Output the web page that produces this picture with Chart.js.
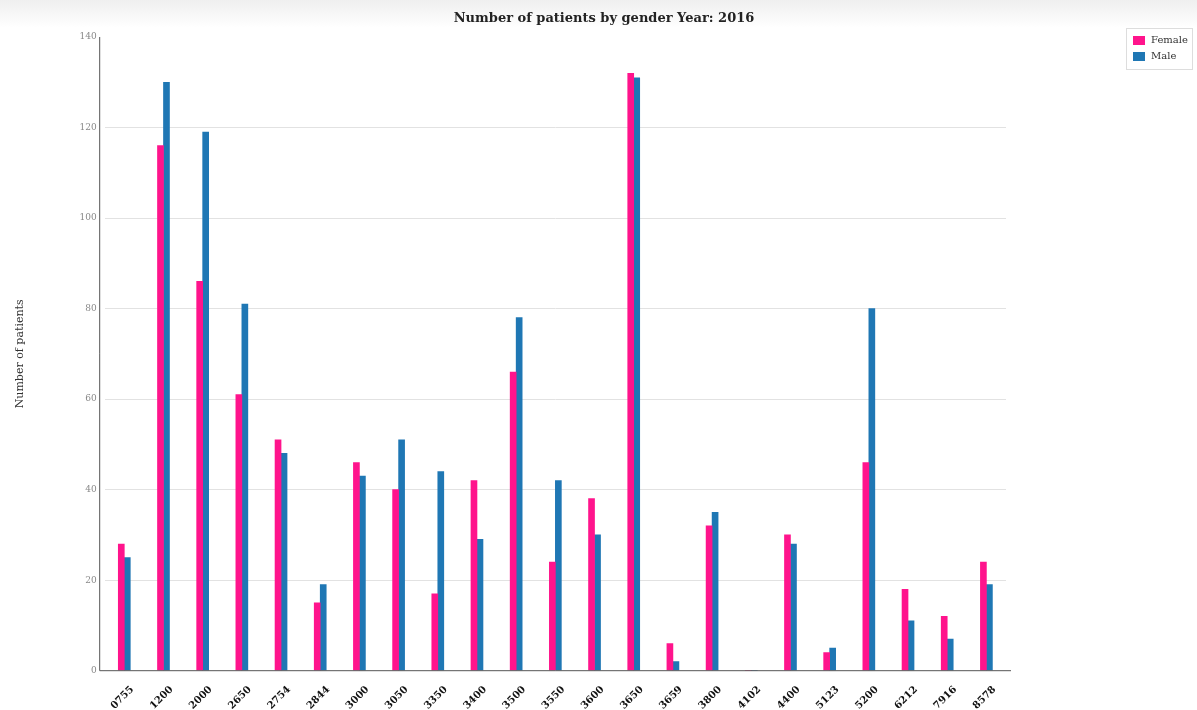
<!DOCTYPE html>
<html>
<head>
<meta charset="utf-8">
<script src="https://cdn.jsdelivr.net/npm/chart.js@4.4.1/dist/chart.umd.min.js"></script>
<style>
  html, body { margin: 0; padding: 0; background: #fff; }
  #wrap { width: 1197px; height: 710px; }
</style>
</head>
<body>
<div id="wrap"><canvas id="chart" width="1197" height="710"></canvas></div>
<script>
const postcodes = ['0755', '1200', '2000', '2650', '2754', '2844', '3000', '3050', '3350', '3400', '3500', '3550',
  '3600', '3650', '3659', '3800', '4102', '4400', '5123', '5200', '6212', '7916', '8578'];
const female = [28, 116, 86, 61, 51, 15, 46, 40, 17, 42, 66, 24, 38, 132, 6, 32, 0, 30, 4, 46, 18, 12, 24];
const male = [25, 130, 119, 81, 48, 19, 43, 51, 44, 29, 78, 42, 30, 131, 2, 35, 0, 28, 5, 80, 11, 7, 19];
const yTicks = [0, 20, 40, 60, 80, 100, 120, 140];
const chartTitle = 'Number of patients by gender Year: 2016';

const FONT = "'DejaVu Serif', serif";
const pink = 'rgb(255, 20, 140)';
const blue = 'rgb(31, 119, 180)';

// faint grey band at the top, like the page behind the original
const backdrop = {
  id: 'backdrop',
  beforeDraw(chart) {
    const c = chart.ctx;
    const g = c.createLinearGradient(0, 0, 0, 28);
    g.addColorStop(0, '#efefef');
    g.addColorStop(1, '#ffffff');
    c.save();
    c.fillStyle = g;
    c.fillRect(0, 0, chart.width, 28);
    c.restore();
  }
};

// title is centred on the whole page, not just the plot
const pageTitle = {
  id: 'pageTitle',
  afterDraw(chart) {
    const c = chart.ctx;
    c.save();
    c.font = 'bold 13px ' + FONT;
    c.fillStyle = '#222';
    c.textAlign = 'center';
    c.textBaseline = 'middle';
    c.fillText(chartTitle, 604, 19);
    c.restore();
  }
};

// axis lines reach a little past the bars on both sides
const axisLines = {
  id: 'axisLines',
  afterDatasetsDraw(chart) {
    const { ctx: c, chartArea: a } = chart;
    const y0 = chart.scales.y.getPixelForValue(0);
    c.save();
    c.strokeStyle = '#555';
    c.lineWidth = 1;
    c.beginPath();
    c.moveTo(a.left - 5, a.top);
    c.lineTo(a.left - 5, y0);
    c.lineTo(a.right + 5, y0);
    c.stroke();
    c.restore();
  }
};

// boxed legend in the top-right corner
const boxLegend = {
  id: 'boxLegend',
  afterDraw(chart) {
    const c = chart.ctx;
    const x = 1126, y = 28, w = 66, h = 41;
    c.save();
    c.fillStyle = '#fff';
    c.fillRect(x, y, w, h);
    c.strokeStyle = '#ddd';
    c.strokeRect(x + 0.5, y + 0.5, w, h);
    c.font = '10px ' + FONT;
    c.textBaseline = 'middle';
    chart.data.datasets.forEach((ds, i) => {
      const ry = y + 12 + i * 16;
      c.fillStyle = ds.backgroundColor;
      c.fillRect(x + 7, ry - 4, 12, 9);
      c.fillStyle = '#333';
      c.fillText(ds.label, x + 25, ry);
    });
    c.restore();
  }
};

new Chart(document.getElementById('chart'), {
  type: 'bar',
  data: {
    labels: postcodes,
    datasets: [
      { label: 'Female', data: female, backgroundColor: pink, barThickness: 6 },
      { label: 'Male', data: male, backgroundColor: blue, barThickness: 6 }
    ]
  },
  options: {
    responsive: false,
    animation: false,
    layout: { padding: { left: 0, right: 191, top: 37, bottom: 0 } },
    plugins: {
      legend: { display: false },
      tooltip: { enabled: false },
      title: { display: false }
    },
    scales: {
      x: {
        offset: true,
        grid: { display: false, drawTicks: false },
        border: { display: false },
        ticks: {
          autoSkip: false,
          minRotation: 45,
          maxRotation: 45,
          labelOffset: 8,
          padding: 13,
          color: '#111',
          font: { family: FONT, size: 10, weight: 'bold' }
        },
        afterFit(scale) { scale.height = 39.3; }
      },
      y: {
        min: 0,
        max: 140,
        afterBuildTicks(scale) { scale.ticks = yTicks.map(v => ({ value: v })); },
        border: { display: false },
        grid: {
          color: (ctx) => (ctx.tick && (ctx.tick.value === 140 || ctx.tick.value === 0)) ? 'rgba(0,0,0,0)' : '#e2e2e2',
          drawTicks: false
        },
        ticks: {
          padding: 8,
          color: '#888',
          font: { family: FONT, size: 9 }
        },
        title: {
          display: true,
          text: 'Number of patients',
          color: '#333',
          font: { family: FONT, size: 11 },
          padding: { top: 14, bottom: 0 }
        },
        afterFit(scale) { scale.width = 104.7; }
      }
    }
  },
  plugins: [backdrop, pageTitle, axisLines, boxLegend]
});
</script>
</body>
</html>
